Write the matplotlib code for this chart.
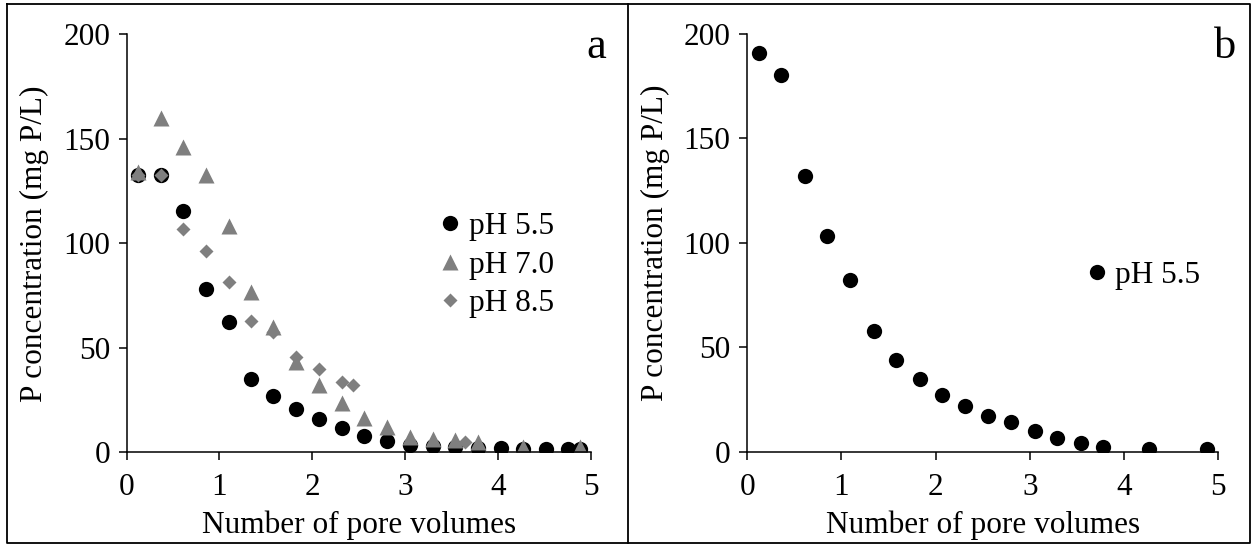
import matplotlib.pyplot as plt
from matplotlib.lines import Line2D

plt.rcParams['font.family'] = ['Liberation Serif', 'DejaVu Serif']

# Panel a: P concentration (mg P/L) vs number of pore volumes
pv_a = [0.12, 0.37, 0.61, 0.86, 1.10, 1.34, 1.58, 1.83, 2.07, 2.32, 2.56,
        2.81, 3.05, 3.30, 3.54, 3.79, 4.03, 4.27, 4.52, 4.76, 4.88]
ph55_a = [132.5, 132.5, 115.5, 78.0, 62.4, 35.2, 27.1, 20.7, 15.9, 11.6, 7.9,
          5.5, 3.7, 2.9, 2.7, 2.0, 1.9, 1.7, 1.6, 1.6, 1.6]
ph70_a = [134, 160, 146, 132.7, 108.2, 76.8, 60.0, 43.4, 32.2, 23.4, 16.3,
          12.0, 7.2, 6.4, 5.9, 5.1, None, 2.7, None, None, 2.4]
pv_85 = [0.12, 0.37, 0.61, 0.86, 1.10, 1.34, 1.58, 1.83, 2.07, 2.32, 2.44, 3.65]
ph85_a = [132.7, 132.7, 106.8, 96.5, 81.6, 62.8, 57.7, 45.7, 39.8, 33.5, 32.2, 5.1]

# Panel b
pv_b = [0.12, 0.36, 0.61, 0.85, 1.09, 1.34, 1.58, 1.83, 2.07, 2.31, 2.56,
        2.80, 3.05, 3.29, 3.54, 3.78, 4.26, 4.88]
ph55_b = [191, 180.2, 132.2, 103.2, 82.2, 58.0, 44.1, 35.0, 27.4, 22.1, 17.3,
          14.2, 10.0, 6.5, 4.4, 2.2, 1.5, 1.5]

xticks = [0, 1, 2, 3, 4, 5]
yticks = [0, 50, 100, 150, 200]

grey = '#7f7f7f'
fs = 22.5

fig = plt.figure(figsize=(12.53, 5.46), dpi=100)
ax_a = fig.add_axes([0.1011, 0.1716, 0.3703, 0.7656])
ax_b = fig.add_axes([0.5964, 0.1722, 0.3759, 0.7656])

pv70 = [x for x, y in zip(pv_a, ph70_a) if y is not None]
v70 = [y for y in ph70_a if y is not None]

ax_a.plot(pv_a, ph55_a, 'o', color='black', ms=11, mec='none', label='pH 5.5')
ax_a.plot(pv70, v70, '^', color=grey, ms=11, mec='none', label='pH 7.0')
ax_a.plot(pv_85, ph85_a, 'D', color=grey, ms=7.5, mec='none', label='pH 8.5')
ax_b.plot(pv_b, ph55_b, 'o', color='black', ms=11, mec='none', label='pH 5.5')

for ax in (ax_a, ax_b):
    ax.set_xlim(0, 5)
    ax.set_ylim(0, 200)
    ax.set_xticks(xticks)
    ax.set_yticks(yticks)
    ax.spines['top'].set_visible(False)
    ax.spines['right'].set_visible(False)
    for s in ('left', 'bottom'):
        ax.spines[s].set_linewidth(1.1)
    ax.tick_params(direction='out', length=6, width=1.1, labelsize=fs)
    ax.tick_params(axis='y', pad=6)
    ax.tick_params(axis='x', pad=9)
    ax.set_xlabel('Number of pore volumes', fontsize=fs, labelpad=6)
    ax.set_ylabel('P concentration (mg P/L)', fontsize=fs, labelpad=10)
    for lab in ax.get_xticklabels() + ax.get_yticklabels():
        lab.set_clip_on(False)

ax_a.text(1.013, 0.97, 'a', transform=ax_a.transAxes, fontsize=32,
          ha='center', va='center')
ax_b.text(1.014, 0.97, 'b', transform=ax_b.transAxes, fontsize=32,
          ha='center', va='center')

ax_a.legend(loc='center left', bbox_to_anchor=(0.67, 0.448), frameon=False,
            fontsize=fs, handlelength=0.8, handletextpad=0.2,
            labelspacing=0.3, borderpad=0, borderaxespad=0)
ax_b.legend(loc='center left', bbox_to_anchor=(0.715, 0.423), frameon=False,
            fontsize=fs, handlelength=0.8, handletextpad=0.2,
            borderpad=0, borderaxespad=0)

# outer frame and divider
lw = 1.3
frame = dict(color='black', lw=lw, transform=fig.transFigure)
fig.add_artist(Line2D([0.0052, 0.9976, 0.9976, 0.0052, 0.0052],
                      [0.9918, 0.9918, 0.0046, 0.0046, 0.9918], **frame))
fig.add_artist(Line2D([0.5008, 0.5008], [0.0046, 0.9918], **frame))

fig.savefig('out.png', dpi=100)
